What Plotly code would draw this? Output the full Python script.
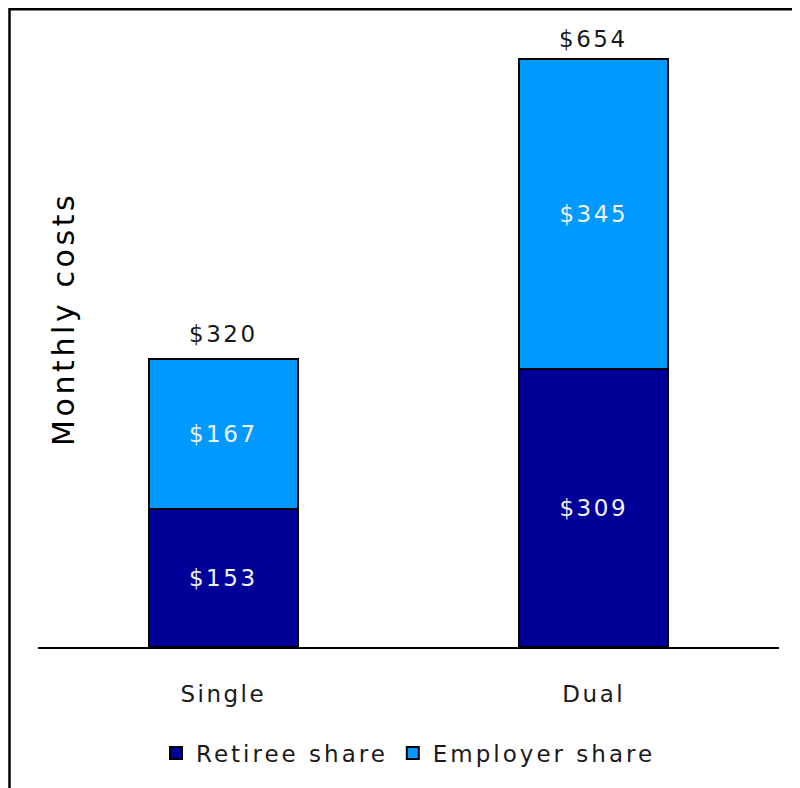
import plotly.graph_objects as go

categories = ["Single", "Dual"]
retiree = [153, 309]
employer = [167, 345]
totals = [320, 654]
series_names = ["Retiree share", "Employer share"]
y_title = "Monthly costs"

# style-only: vertical pixel offsets of total labels
total_shifts = [10, 5]

SP = "<span style='letter-spacing:2.5px'>{}</span>"
SP_L = "<span style='letter-spacing:3px'>{}</span>"
SP_T = "<span style='letter-spacing:3.6px'>{}</span>"
FONT = "DejaVu Sans, Verdana, sans-serif"
FS = 23

def money(v):
    return SP.format(f"${v}")

# page has an 8px body margin; figure coordinates are page - 8
L, T = 30, 10
PW, PH = 741, 629
W, H = 792, 780

def px(xp):
    return (xp - 8 - L) / PW

def py(yp):
    return (T + PH - (yp - 8)) / PH

fig = go.Figure()
fig.add_trace(go.Bar(
    x=categories, y=retiree, name=SP_L.format(series_names[0]),
    marker=dict(color="#000099", line=dict(color="black", width=2)),
    text=[money(v) for v in retiree], textposition="inside",
    insidetextanchor="middle", textangle=0, constraintext="none",
    textfont=dict(color="#f2f2f2", size=FS, family=FONT),
))
fig.add_trace(go.Bar(
    x=categories, y=employer, name=SP_L.format(series_names[1]),
    marker=dict(color="#0099FF", line=dict(color="black", width=2)),
    text=[money(v) for v in employer], textposition="inside",
    insidetextanchor="middle", textangle=0, constraintext="none",
    textfont=dict(color="#f2f2f2", size=FS, family=FONT),
))

for c, t, s in zip(categories, totals, total_shifts):
    fig.add_annotation(x=c, y=t, text=money(t), showarrow=False,
                       yanchor="bottom", yshift=s,
                       font=dict(size=FS, color="#1a1a1a", family=FONT))

fig.add_annotation(x=px(63), y=py(319), xref="paper", yref="paper",
                   xanchor="center", yanchor="middle",
                   text=SP_T.format(y_title), textangle=-90, showarrow=False,
                   font=dict(size=30, color="black", family=FONT))

fig.add_shape(type="rect", xref="paper", yref="paper",
              x0=px(9.5), x1=1.3, y0=-0.5, y1=(T + PH - 1.25) / PH,
              line=dict(color="black", width=2.5), fillcolor="rgba(0,0,0,0)")

fig.update_layout(
    width=W, height=H,
    barmode="stack", bargap=0.597,
    paper_bgcolor="white", plot_bgcolor="white",
    margin=dict(l=L, r=W - L - PW, t=T, b=H - T - PH),
    font=dict(family=FONT, size=FS, color="#1a1a1a"),
    showlegend=True,
    legend=dict(orientation="h", x=px(156), y=py(753), xanchor="left",
                yanchor="middle", font=dict(size=FS, color="#1a1a1a"),
                traceorder="normal"),
    xaxis=dict(showline=True, linecolor="black", linewidth=2,
               showgrid=False, ticks="", tickmode="array",
               tickvals=categories, ticktext=[SP.format(c) for c in categories],
               ticklabelstandoff=25, tickfont=dict(size=FS, color="#1a1a1a"),
               range=[-0.5, 1.5]),
    yaxis=dict(visible=False, range=[0, 699.6]),
)

fig.write_html("out.html")
